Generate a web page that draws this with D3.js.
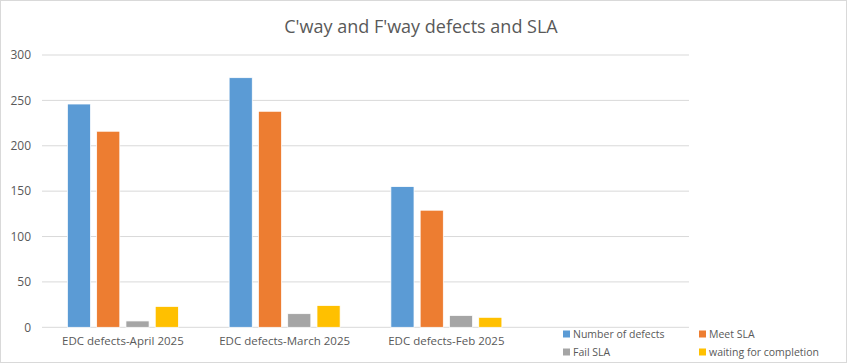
<!DOCTYPE html>
<html>
<head>
<meta charset="utf-8">
<script src="https://cdn.jsdelivr.net/npm/d3@7"></script>
<style>
  body { margin: 0; background: #fff; }
  svg { display: block; font-family: "Open Sans", "Noto Sans", sans-serif; }
</style>
</head>
<body>
<div id="chart"></div>
<script>
// Data
const categories = ["EDC defects-April 2025", "EDC defects-March 2025", "EDC defects-Feb 2025", ""];
const seriesNames = ["Number of defects", "Meet SLA", "Fail SLA", "waiting for completion"];
const numberOfDefects = [246, 275, 155, null];
const meetSLA = [216, 238, 129, null];
const failSLA = [7, 15, 13, null];
const waitingForCompletion = [23, 24, 11, null];
const yTicks = [0, 50, 100, 150, 200, 250, 300];
const colors = ["#5b9bd5", "#ed7d31", "#a5a5a5", "#ffc000"];

const seriesValues = [numberOfDefects, meetSLA, failSLA, waitingForCompletion];

const W = 847, H = 363;
const plot = { left: 42, right: 689, top: 55, bottom: 327.3 };

const svg = d3.select("#chart").append("svg")
    .attr("width", W)
    .attr("height", H);

// Chart border
svg.append("rect")
    .attr("x", 0.5).attr("y", 0.5)
    .attr("width", W - 1).attr("height", H - 1)
    .attr("fill", "#fff")
    .attr("stroke", "#d9d9d9");

// Title
svg.append("text")
    .attr("x", 421)
    .attr("y", 33)
    .attr("text-anchor", "middle")
    .attr("fill", "#595959")
    .style("font-size", "18px")
    .text("C'way and F'way defects and SLA");

// Scales
const x0 = d3.scaleBand()
    .domain(categories.map((c, i) => i))
    .range([plot.left, plot.right]);

const groupW = 111;
const x1 = d3.scaleBand()
    .domain(seriesNames)
    .range([(x0.bandwidth() - groupW) / 2, (x0.bandwidth() + groupW) / 2])
    .paddingInner(0.21);

const y = d3.scaleLinear()
    .domain([0, 300])
    .range([plot.bottom, plot.top]);

// Gridlines
svg.append("g")
    .selectAll("line")
    .data(yTicks)
    .join("line")
    .attr("x1", plot.left)
    .attr("x2", plot.right)
    .attr("y1", d => y(d))
    .attr("y2", d => y(d))
    .attr("stroke", "#d9d9d9")
    .attr("stroke-width", 1);

// Y axis labels
svg.append("g")
    .selectAll("text")
    .data(yTicks)
    .join("text")
    .attr("x", 31)
    .attr("y", d => y(d))
    .attr("dy", "0.35em")
    .attr("text-anchor", "end")
    .attr("fill", "#595959")
    .style("font-size", "12px")
    .text(d => d);

// Bars
const groups = svg.append("g")
    .selectAll("g")
    .data(categories.map((c, i) => i))
    .join("g")
    .attr("transform", i => `translate(${x0(i)},0)`);

groups.selectAll("rect")
    .data(i => seriesNames.map((s, k) => ({ s, k, v: seriesValues[k][i] })).filter(d => d.v != null))
    .join("rect")
    .attr("x", d => x1(d.s))
    .attr("width", x1.bandwidth())
    .attr("y", d => y(d.v))
    .attr("height", d => y(0) - y(d.v))
    .attr("fill", d => colors[d.k])
    .attr("stroke", "#fff")
    .attr("stroke-width", 0.75);

// Category labels
svg.append("g")
    .selectAll("text")
    .data(categories.map((c, i) => i))
    .join("text")
    .attr("x", i => x0(i) + x0.bandwidth() / 2)
    .attr("y", 345)
    .attr("text-anchor", "middle")
    .attr("fill", "#595959")
    .style("font-size", "11.5px")
    .text(i => categories[i]);

// Legend
const legendPos = [[563, 334], [699, 334], [563, 352], [699, 352]];
const legend = svg.append("g")
    .selectAll("g")
    .data(seriesNames)
    .join("g")
    .attr("transform", (d, i) => `translate(${legendPos[i][0]},${legendPos[i][1]})`);

legend.append("rect")
    .attr("x", 0).attr("y", -3.5)
    .attr("width", 7).attr("height", 7)
    .attr("fill", (d, i) => colors[i]);

legend.append("text")
    .attr("x", 10)
    .attr("y", 0)
    .attr("dy", "0.35em")
    .attr("fill", "#595959")
    .style("font-size", "10.5px")
    .text(d => d);
</script>
</body>
</html>
